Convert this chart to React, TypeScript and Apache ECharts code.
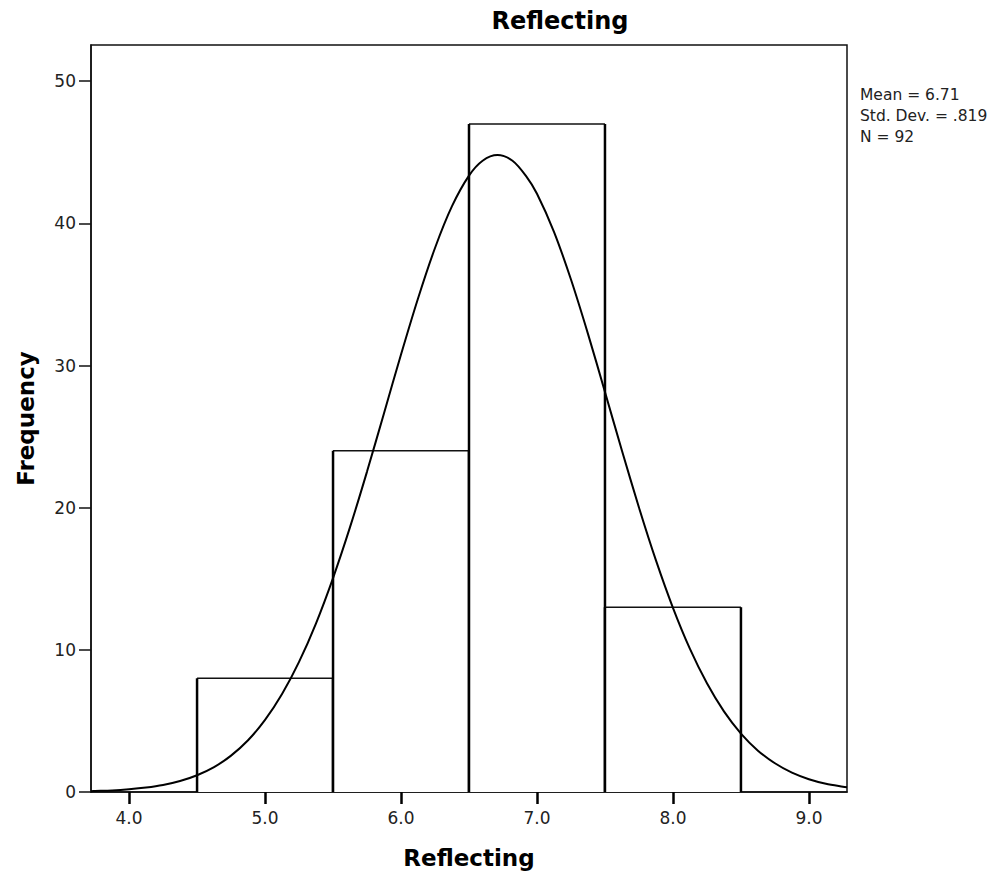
import React, { useEffect, useRef } from "react";
import * as echarts from "echarts";

// Histogram bins: [lower edge, upper edge]
const binLower = [4.5, 5.5, 6.5, 7.5];
const binUpper = [5.5, 6.5, 7.5, 8.5];
const frequencies = [8, 24, 47, 13];

// Normal curve
const curveX = [3.72, 3.75, 3.875, 4.0, 4.125, 4.25, 4.375, 4.5, 4.625, 4.75, 4.875, 5.0, 5.125, 5.25, 5.375, 5.5, 5.625, 5.75, 5.875, 6.0, 6.125, 6.25, 6.375, 6.5, 6.6, 6.71, 6.82, 6.92, 7.0, 7.125, 7.25, 7.375, 7.5, 7.625, 7.75, 7.875, 8.0, 8.125, 8.25, 8.375, 8.5, 8.625, 8.75, 8.875, 9.0, 9.125, 9.25, 9.28];
const curveY = [0.06, 0.07, 0.11, 0.19, 0.31, 0.49, 0.77, 1.18, 1.75, 2.56, 3.64, 5.07, 6.89, 9.15, 11.87, 15.05, 18.63, 22.54, 26.65, 30.78, 34.72, 38.27, 41.21, 43.36, 44.41, 44.81, 44.41, 43.33, 42.09, 39.41, 36.05, 32.23, 28.14, 24.01, 20.01, 16.29, 12.96, 10.07, 7.65, 5.67, 4.11, 2.91, 2.02, 1.36, 0.9, 0.58, 0.37, 0.33];

const xTicks = [4, 5, 6, 7, 8, 9];
const yTicks = [0, 10, 20, 30, 40, 50];

const titleText = "Reflecting";
const xName = "Reflecting";
const yName = "Frequency";
const statsLines = ["Mean = 6.71", "Std. Dev. = .819", "N = 92"];

export default function App() {
  const ref = useRef<HTMLDivElement>(null);
  useEffect(() => {
    if (!ref.current) return;
    const chart = echarts.init(ref.current, undefined, { renderer: "svg" });
    const barData = binLower.map((lo, i) => [lo, binUpper[i], frequencies[i]]);
    const curveData = curveX.map((x, i) => [x, curveY[i]]);
    const labelFont = "DejaVu Sans";
    chart.setOption({
      animation: false,
      backgroundColor: "#fff",
      grid: {
        left: 91,
        right: 159,
        top: 45,
        bottom: 85,
        show: true,
        borderColor: "#111",
        borderWidth: 1.5,
        backgroundColor: "transparent",
      },
      xAxis: {
        type: "value",
        min: 3.72,
        max: 9.28,
        name: xName,
        nameLocation: "middle",
        nameGap: 54,
        nameTextStyle: { fontFamily: labelFont, fontWeight: "bold", fontSize: 23, color: "#000" },
        axisLine: { show: true, onZero: false, lineStyle: { color: "#111", width: 1.5 } },
        axisTick: { show: true, length: 12, lineStyle: { color: "#000", width: 2.5 }, customValues: xTicks },
        axisLabel: {
          customValues: xTicks,
          formatter: (v: number) => v.toFixed(1),
          fontFamily: labelFont,
          fontSize: 17,
          color: "#222",
          margin: 17,
        },
        splitLine: { show: false },
      },
      yAxis: {
        type: "value",
        min: 0,
        max: 52.55,
        name: yName,
        nameLocation: "middle",
        nameGap: 54,
        nameTextStyle: { fontFamily: labelFont, fontWeight: "bold", fontSize: 23, color: "#000" },
        axisLine: { show: true, lineStyle: { color: "#111", width: 1.5 } },
        axisTick: { show: true, length: 12, lineStyle: { color: "#111", width: 1.5 }, customValues: yTicks },
        axisLabel: {
          customValues: yTicks,
          fontFamily: labelFont,
          fontSize: 17,
          color: "#222",
          margin: 15,
        },
        splitLine: { show: false },
      },
      graphic: [
        {
          type: "text",
          x: 560,
          y: 21,
          style: {
            text: titleText,
            align: "center",
            verticalAlign: "middle",
            font: `bold 24px "${labelFont}"`,
            fill: "#000",
          },
        },
        {
          type: "text",
          x: 860,
          y: 84,
          style: {
            text: statsLines.join("\n"),
            align: "left",
            verticalAlign: "top",
            font: `15.5px "${labelFont}"`,
            lineHeight: 21,
            fill: "#222",
          },
        },
      ],
      series: [
        {
          type: "custom",
          data: barData,
          z: 2,
          renderItem: (params: any, api: any) => {
            const tl = api.coord([api.value(0), api.value(2)]);
            const br = api.coord([api.value(1), 0]);
            return {
              type: "group",
              children: [
                {
                  type: "rect",
                  shape: { x: tl[0], y: tl[1], width: br[0] - tl[0], height: br[1] - tl[1] },
                  style: { fill: "#fff", stroke: "none" },
                },
                {
                  type: "line",
                  shape: { x1: tl[0], y1: tl[1], x2: br[0], y2: tl[1] },
                  style: { stroke: "#111", lineWidth: 1.5 },
                },
                {
                  type: "line",
                  shape: { x1: tl[0], y1: tl[1], x2: tl[0], y2: br[1] },
                  style: { stroke: "#000", lineWidth: 2.5 },
                },
                {
                  type: "line",
                  shape: { x1: br[0], y1: tl[1], x2: br[0], y2: br[1] },
                  style: { stroke: "#000", lineWidth: 2.5 },
                },
              ],
            };
          },
        },
        {
          type: "line",
          data: curveData,
          smooth: 0.3,
          showSymbol: false,
          symbol: "none",
          z: 3,
          lineStyle: { color: "#000", width: 2 },
        },
      ],
    });
    return () => chart.dispose();
  }, []);
  return (
    <div
      ref={ref}
      style={{ position: "absolute", left: 0, top: 0, width: 1006, height: 877, background: "#fff" }}
    />
  );
}
